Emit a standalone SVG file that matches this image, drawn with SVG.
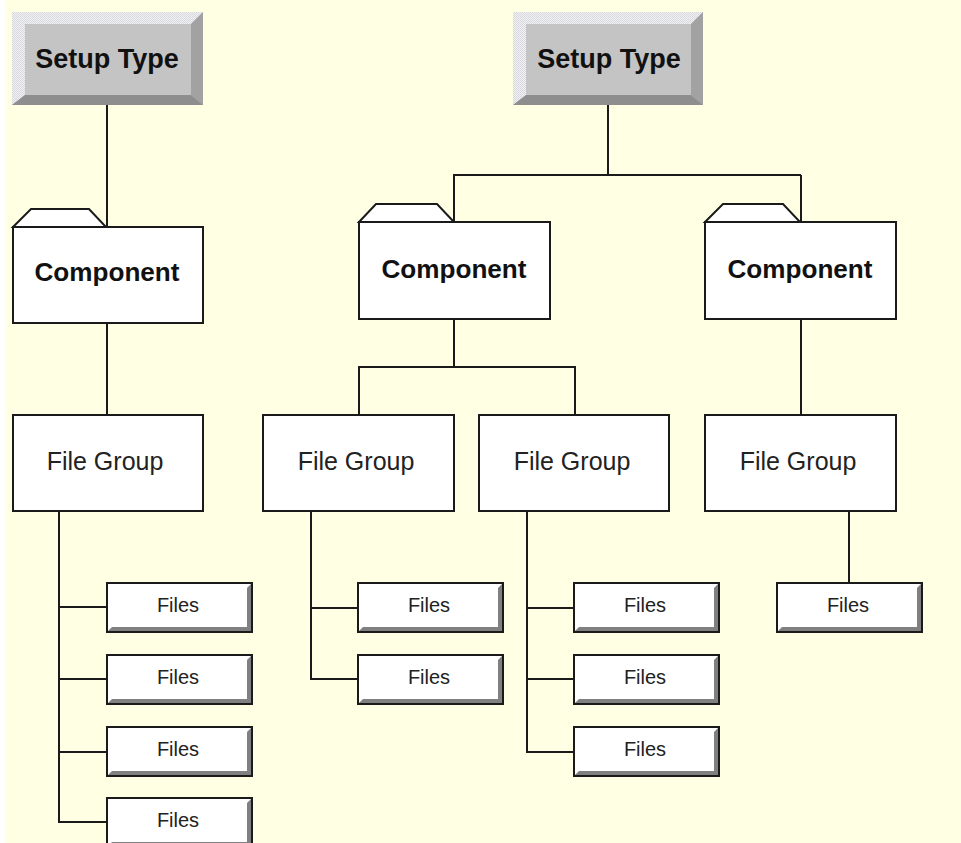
<svg xmlns="http://www.w3.org/2000/svg" width="961" height="843" viewBox="0 0 961 843">
<style>
.bg{fill:#FFFFE4}
.conn{fill:none;stroke:#1a1a1a;stroke-width:2}
.box{fill:#fff;stroke:#1a1a1a;stroke-width:2}
.bev{fill:#808080}
.face{fill:#C4C4C4}
.hi{fill:url(#chk)}
.dkr{fill:#A2A2A2}
.dkb{fill:#8E8E8E}
.t-setup{font-family:"Liberation Sans",Arial,sans-serif;font-weight:bold;font-size:27px;fill:#111;text-anchor:middle}
.t-comp{font-family:"Liberation Sans",Arial,sans-serif;font-weight:bold;font-size:25px;fill:#111;text-anchor:middle}
.t-fg{font-family:"Liberation Sans",Arial,sans-serif;font-size:25px;fill:#222;text-anchor:middle}
.t-files{font-family:"Liberation Sans",Arial,sans-serif;font-size:20px;fill:#222;text-anchor:middle}
</style>
<defs>
<pattern id="chk" width="2" height="2" patternUnits="userSpaceOnUse">
<rect width="2" height="2" fill="#F2F2F2"/>
<rect width="1" height="1" fill="#D4D4DC"/>
<rect x="1" y="1" width="1" height="1" fill="#DCDCD4"/>
</pattern>
<g id="filesbtn">
<rect class="box" x="0" y="0" width="145" height="49"/>
<polygon class="bev" points="144,1 144,48 1,48 5,44 140,44 140,5"/>
<text class="t-files" x="71" y="29">Files</text>
</g>
</defs>
<rect width="961" height="843" fill="#fff"/>
<rect class="bg" x="6" y="0" width="955" height="843"/>

<g id="connectors">
<path class="conn" d="M107,105 V227"/>
<path class="conn" d="M608,105 V175 M453,175 H801 M454,175 V222 M801,175 V222"/>
<path class="conn" d="M107,323 V415"/>
<path class="conn" d="M454,319 V367 M358,367 H576 M359,367 V415 M575,367 V415"/>
<path class="conn" d="M801,319 V415"/>
<path class="conn" d="M59,511 V823 M59,607 H107 M59,679 H107 M59,752 H107 M58,822 H107"/>
<path class="conn" d="M311,512 V680 M311,608 H358 M310,679 H358"/>
<path class="conn" d="M527,512 V753 M527,608 H574 M527,679 H574 M526,752 H574"/>
<path class="conn" d="M849,512 V583"/>
</g>

<g id="setup1">
<rect class="face" x="12" y="12" width="191" height="93"/>
<polygon class="hi" points="12,12 203,12 191,24 25,24 25,95 12,105"/>
<polygon class="dkr" points="203,12 203,105 191,95 191,24"/>
<polygon class="dkb" points="12,105 25,95 191,95 203,105"/>
<text class="t-setup" x="107" y="68">Setup Type</text>
</g>
<g id="setup2">
<rect class="face" x="513" y="12" width="190" height="93"/>
<polygon class="hi" points="513,12 703,12 691,24 526,24 526,95 513,105"/>
<polygon class="dkr" points="703,12 703,105 691,95 691,24"/>
<polygon class="dkb" points="513,105 526,95 691,95 703,105"/>
<text class="t-setup" x="609" y="68">Setup Type</text>
</g>

<g id="comp1">
<polygon class="box" points="13,227 31,209 89,209 106,227"/>
<rect class="box" x="13" y="227" width="190" height="96"/>
<text class="t-comp" x="107" y="281" textLength="145" lengthAdjust="spacingAndGlyphs">Component</text>
</g>
<g id="comp2">
<polygon class="box" points="359,222 376,204 437,204 454,222"/>
<rect class="box" x="359" y="222" width="191" height="97"/>
<text class="t-comp" x="454" y="278" textLength="145" lengthAdjust="spacingAndGlyphs">Component</text>
</g>
<g id="comp3">
<polygon class="box" points="705,222 723,204 783,204 800,222"/>
<rect class="box" x="705" y="222" width="191" height="97"/>
<text class="t-comp" x="800" y="278" textLength="145" lengthAdjust="spacingAndGlyphs">Component</text>
</g>

<g id="fg1">
<rect class="box" x="13" y="415" width="190" height="96"/>
<text class="t-fg" x="105" y="470">File Group</text>
</g>
<g id="fg2">
<rect class="box" x="263" y="415" width="191" height="96"/>
<text class="t-fg" x="356" y="470">File Group</text>
</g>
<g id="fg3">
<rect class="box" x="479" y="415" width="190" height="96"/>
<text class="t-fg" x="572" y="470">File Group</text>
</g>
<g id="fg4">
<rect class="box" x="705" y="415" width="191" height="96"/>
<text class="t-fg" x="798" y="470">File Group</text>
</g>

<g id="files1a"><use href="#filesbtn" x="107" y="583"/></g>
<g id="files1b"><use href="#filesbtn" x="107" y="655"/></g>
<g id="files1c"><use href="#filesbtn" x="107" y="727"/></g>
<g id="files1d"><use href="#filesbtn" x="107" y="798"/></g>
<g id="files2a"><use href="#filesbtn" x="358" y="583"/></g>
<g id="files2b"><use href="#filesbtn" x="358" y="655"/></g>
<g id="files3a"><use href="#filesbtn" x="574" y="583"/></g>
<g id="files3b"><use href="#filesbtn" x="574" y="655"/></g>
<g id="files3c"><use href="#filesbtn" x="574" y="727"/></g>
<g id="files4a"><use href="#filesbtn" x="777" y="583"/></g>
</svg>
